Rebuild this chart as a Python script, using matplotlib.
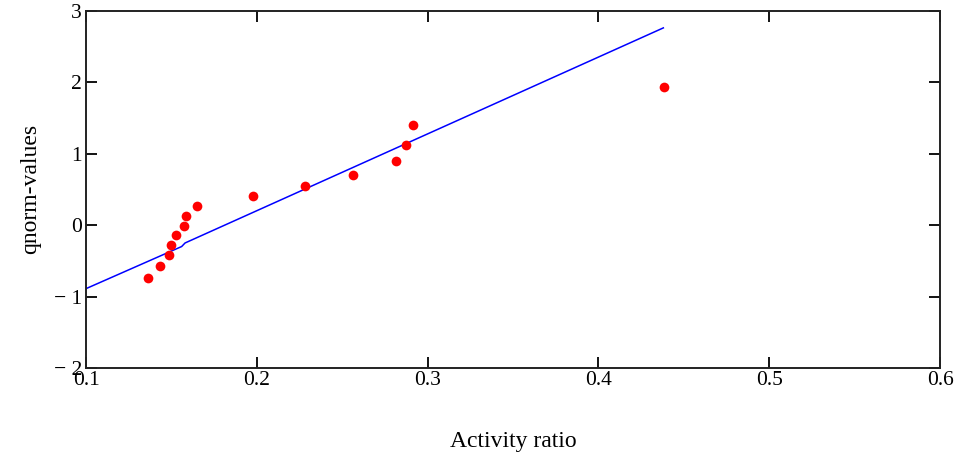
import matplotlib.pyplot as plt

# activity ratio vs normal quantiles
activity = [0.1362, 0.1436, 0.1485, 0.1495, 0.1526, 0.1573, 0.1585, 0.1650,
            0.1980, 0.2283, 0.2565, 0.2815, 0.2874, 0.2913, 0.4382]
qnorm = [-0.735, -0.567, -0.412, -0.272, -0.132, -0.014, 0.126, 0.266,
         0.407, 0.547, 0.705, 0.898, 1.126, 1.407, 1.935]

# fitted line
line_x = [0.1, 0.156, 0.158, 0.438]
line_y = [-0.89, -0.30, -0.25, 2.763]

xticks = [0.1, 0.2, 0.3, 0.4, 0.5, 0.6]
yticks = [-2, -1, 0, 1, 2, 3]

plt.rcParams['font.family'] = ['Liberation Serif', 'DejaVu Serif']

fig = plt.figure(figsize=(9.62, 4.57), dpi=100)
ax = fig.add_axes([0.0894, 0.195, 0.8878, 0.781])

ax.plot(line_x, line_y, color='#0000ff', linewidth=1.1)
ax.plot(activity, qnorm, 'o', color='#ff0000', markersize=7, markeredgewidth=0)

ax.set_xlim(0.1, 0.6)
ax.set_ylim(-2, 3)
ax.set_xticks(xticks)
ax.set_xticklabels([str(t) for t in xticks])
ax.set_yticks(yticks)
ax.set_yticklabels([('\u2212 ' + str(-t)) if t < 0 else str(t) for t in yticks])

ax.tick_params(direction='in', length=8, width=1.3, top=True, right=True,
               labelsize=15.5, colors='black')
ax.tick_params(axis='x', pad=2)
ax.tick_params(axis='y', pad=3)
for s in ax.spines.values():
    s.set_linewidth(1.4)
    s.set_color('#222222')

ax.set_xlabel('Activity ratio', fontsize=17, labelpad=30)
ax.set_ylabel('qnorm-values', fontsize=17, labelpad=9)

fig.savefig('out.png', dpi=100)
